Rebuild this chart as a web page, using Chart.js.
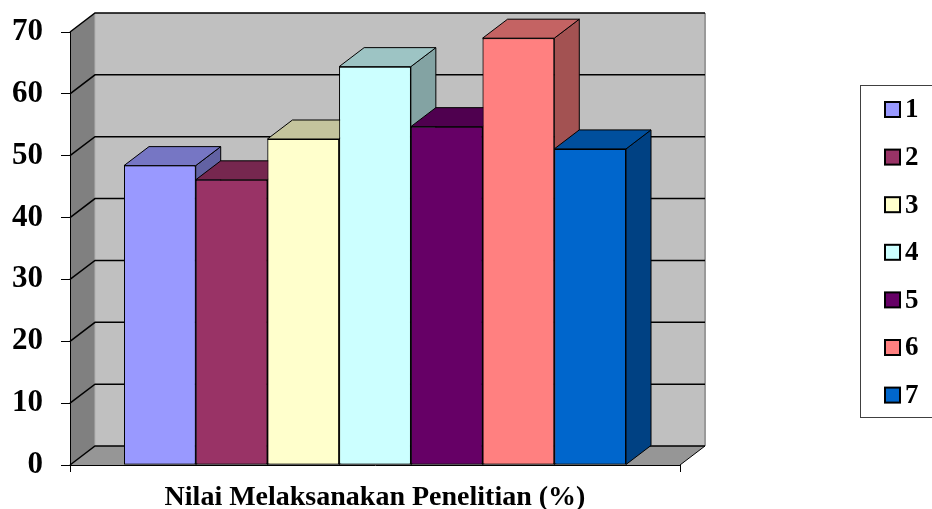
<!DOCTYPE html>
<html>
<head>
<meta charset="utf-8">
<script src="https://cdn.jsdelivr.net/npm/chart.js@4.4.1/dist/chart.umd.min.js"></script>
<style>
  html, body { margin: 0; padding: 0; background: #ffffff; }
  canvas { display: block; }
</style>
</head>
<body>
<canvas id="chart" width="932" height="509"></canvas>
<script>
// Chart data
const categories = ['Nilai Melaksanakan Penelitian (%)'];
const seriesLabels = ['1', '2', '3', '4', '5', '6', '7'];
const seriesValues = [48.4, 46.1, 52.7, 64.4, 54.7, 69.0, 51.1];
const yMin = 0;
const yMax = 70;
const yStep = 10;

// Styling
const seriesColors = ['#9999ff', '#993366', '#ffffcc', '#ccffff', '#660066', '#ff8080', '#0066cc'];
const FONT = '"Liberation Serif", "Times New Roman", serif';
const DEPTH_X = 25;   // depth projection of the 3-D box
const DEPTH_Y = -19;

function shade(hex, f) {
  const n = parseInt(hex.slice(1), 16);
  const r = Math.round(((n >> 16) & 255) * f);
  const g = Math.round(((n >> 8) & 255) * f);
  const b = Math.round((n & 255) * f);
  return 'rgb(' + r + ',' + g + ',' + b + ')';
}

function poly(ctx, pts, fill, stroke, lw) {
  ctx.beginPath();
  ctx.moveTo(pts[0][0], pts[0][1]);
  for (let i = 1; i < pts.length; i++) ctx.lineTo(pts[i][0], pts[i][1]);
  ctx.closePath();
  if (fill) { ctx.fillStyle = fill; ctx.fill(); }
  if (stroke) { ctx.strokeStyle = stroke; ctx.lineWidth = lw || 1; ctx.stroke(); }
}

// Walls, floor and gridlines of the 3-D plot box
const wallsPlugin = {
  id: 'walls3d',
  beforeDraw(chart) {
    const ctx = chart.ctx;
    const y = chart.scales.y;
    const L = chart.chartArea.left, R = chart.chartArea.right;
    const yTop = y.getPixelForValue(yMax), yBot = y.getPixelForValue(yMin);
    const dx = DEPTH_X, dy = DEPTH_Y;
    ctx.save();
    // side wall
    poly(ctx, [[L, yTop], [L + dx, yTop + dy], [L + dx, yBot + dy], [L, yBot]], '#808080');
    // back wall
    poly(ctx, [[L + dx, yTop + dy], [R + dx, yTop + dy], [R + dx, yBot + dy], [L + dx, yBot + dy]], '#c0c0c0');
    // floor
    poly(ctx, [[L, yBot], [L + dx, yBot + dy], [R + dx, yBot + dy], [R, yBot]], '#969696');
    // back wall edges
    ctx.strokeStyle = '#9a9a9a';
    ctx.lineWidth = 2;
    ctx.beginPath();
    ctx.moveTo(R + dx, yTop + dy);
    ctx.lineTo(R + dx, yBot + dy);
    ctx.stroke();
    ctx.strokeStyle = '#b0b0b0';
    ctx.lineWidth = 1;
    ctx.beginPath();
    ctx.moveTo(L + dx, yTop + dy);
    ctx.lineTo(L + dx, yBot + dy);
    ctx.stroke();
    // gridlines across side wall and back wall
    ctx.strokeStyle = '#000000';
    ctx.lineWidth = 1.5;
    y.ticks.forEach(t => {
      const p = y.getPixelForValue(t.value);
      ctx.beginPath();
      ctx.moveTo(L, p);
      ctx.lineTo(L + dx, p + dy);
      ctx.lineTo(R + dx, p + dy);
      ctx.stroke();
    });
    // floor right edge
    ctx.lineWidth = 1;
    ctx.beginPath();
    ctx.moveTo(R, yBot);
    ctx.lineTo(R + dx, yBot + dy);
    ctx.stroke();
    ctx.restore();
  },
  afterDatasetsDraw(chart) {
    const ctx = chart.ctx;
    const dx = DEPTH_X, dy = DEPTH_Y;
    ctx.save();
    chart.data.datasets.forEach((ds, i) => {
      const meta = chart.getDatasetMeta(i);
      meta.data.forEach(bar => {
        const p = bar.getProps(['x', 'y', 'base', 'width'], true);
        const left = p.x - p.width / 2, right = p.x + p.width / 2;
        const col = ds.backgroundColor;
        // right side face
        poly(ctx, [[right, p.y], [right + dx, p.y + dy], [right + dx, p.base + dy], [right, p.base]], shade(col, 0.64), '#000000', 1);
        // top face
        poly(ctx, [[left, p.y], [left + dx, p.y + dy], [right + dx, p.y + dy], [right, p.y]], shade(col, 0.77), '#000000', 1);
        // front face
        bar.draw(ctx);
      });
    });
    ctx.restore();
  },
  afterDraw(chart) {
    // legend box
    const ctx = chart.ctx;
    ctx.save();
    ctx.strokeStyle = '#404040';
    ctx.lineWidth = 1;
    ctx.strokeRect(860.5, 85.5, 90, 332);
    ctx.font = 'bold 27px ' + FONT;
    ctx.textBaseline = 'middle';
    ctx.textAlign = 'left';
    chart.data.datasets.forEach((ds, i) => {
      const cy = 109.5 + i * 47.6;
      ctx.fillStyle = ds.backgroundColor;
      ctx.fillRect(885, cy - 7.5, 15, 15);
      ctx.strokeStyle = '#000000';
      ctx.lineWidth = 2;
      ctx.strokeRect(885, cy - 7.5, 15, 15);
      ctx.fillStyle = '#000000';
      ctx.fillText(ds.label, 905, cy + 1);
    });
    ctx.restore();
  }
};

new Chart(document.getElementById('chart'), {
  type: 'bar',
  data: {
    labels: categories,
    datasets: seriesLabels.map((lab, i) => ({
      label: lab,
      data: [seriesValues[i]],
      backgroundColor: seriesColors[i],
      borderColor: '#000000',
      borderWidth: 1,
      borderSkipped: false,
      categoryPercentage: 0.823,
      barPercentage: 1.0
    }))
  },
  options: {
    responsive: false,
    animation: false,
    devicePixelRatio: 1,
    layout: { padding: { top: 32, right: 252, left: 0, bottom: 0 } },
    plugins: {
      legend: { display: false },
      tooltip: { enabled: false }
    },
    scales: {
      x: {
        offset: true,
        grid: { display: true, drawOnChartArea: false, offset: true, tickLength: 7, color: '#000000' },
        border: { display: true, color: '#000000', width: 1 },
        ticks: { color: '#000000', padding: 9, font: { family: FONT, size: 28, weight: 'bold' } },
        afterFit(scale) { scale.height = 44; scale.paddingLeft = 0; scale.paddingRight = 0; }
      },
      y: {
        min: yMin,
        max: yMax,
        ticks: { stepSize: yStep, color: '#000000', padding: 18, font: { family: FONT, size: 31, weight: 'bold' } },
        grid: { display: true, drawOnChartArea: false, tickLength: 9, color: '#000000' },
        border: { display: true, color: '#000000', width: 1 },
        afterFit(scale) { scale.width = 70; scale.paddingTop = 0; scale.paddingBottom = 0; }
      }
    }
  },
  plugins: [wallsPlugin]
});
</script>
</body>
</html>
